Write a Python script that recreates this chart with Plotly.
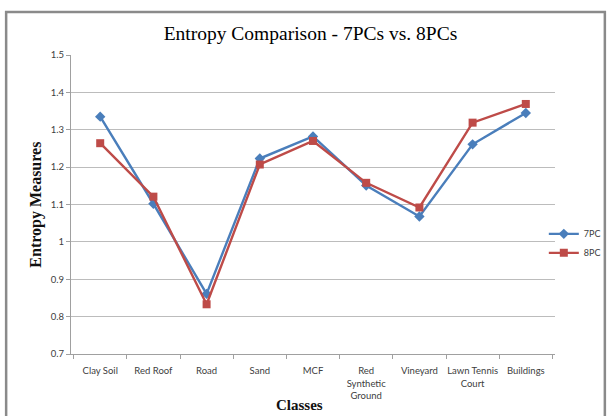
import plotly.graph_objects as go

categories = ["Clay Soil", "Red Roof", "Road", "Sand", "MCF",
              "Red<br>Synthetic<br>Ground", "Vineyard", "Lawn Tennis<br>Court", "Buildings"]
pc7 = [1.335, 1.102, 0.861, 1.223, 1.282, 1.151, 1.068, 1.261, 1.345]
pc8 = [1.264, 1.121, 0.833, 1.207, 1.270, 1.158, 1.092, 1.319, 1.369]
y_ticks = [0.7, 0.8, 0.9, 1.0, 1.1, 1.2, 1.3, 1.4, 1.5]
y_ticktext = ["0.7", "0.8", "0.9", "1", "1.1", "1.2", "1.3", "1.4", "1.5"]

tickfont = dict(family="Lato, Open Sans, sans-serif", size=9.5, color="#404040")
serif = "Liberation Serif, serif"

fig = go.Figure()
fig.add_trace(go.Scatter(x=categories, y=pc7, name="7PC", mode="lines+markers",
                         line=dict(color="#4a7ebb", width=2.4),
                         marker=dict(symbol="diamond", size=8, color="#4a7ebb")))
fig.add_trace(go.Scatter(x=categories, y=pc8, name="8PC", mode="lines+markers",
                         line=dict(color="#be4b48", width=2.4),
                         marker=dict(symbol="square", size=8, color="#be4b48")))

fig.update_layout(
    width=616, height=416,
    margin=dict(l=71, r=61, t=55, b=62, autoexpand=False),
    paper_bgcolor="white", plot_bgcolor="white",
    title=dict(text="Entropy Comparison - 7PCs vs. 8PCs", x=0.504, xanchor="center",
               y=0.921, yanchor="middle",
               font=dict(family=serif, size=19.5, color="#000000")),
    legend=dict(x=1.105, xanchor="right", y=0.37, yanchor="middle",
                font=dict(family="Lato, Open Sans, sans-serif", size=9, color="#404040"),
                bgcolor="rgba(0,0,0,0)", itemwidth=30, tracegroupgap=0),
    showlegend=True,
    annotations=[
        dict(text="<b>Classes</b>", xref="paper", yref="paper", x=0.473, y=-0.17,
             xanchor="center", yanchor="middle", showarrow=False,
             font=dict(family=serif, size=15, color="#111111")),
        dict(text="<b>Entropy Measures</b>", xref="paper", yref="paper", x=-0.074, y=0.5,
             xanchor="center", yanchor="middle", showarrow=False, textangle=-90,
             font=dict(family=serif, size=16, color="#111111")),
    ],
)
fig.update_xaxes(
    type="category", tickson="boundaries", ticks="outside", ticklen=4,
    tickcolor="#a0a0a0", showline=True, linecolor="#a0a0a0", linewidth=1,
    showgrid=False, tickfont=tickfont, tickangle=0, ticklabelstandoff=8,
)
fig.update_yaxes(
    range=[0.7, 1.5], tickvals=y_ticks, ticktext=y_ticktext,
    ticks="outside", ticklen=4, tickcolor="#a0a0a0",
    showline=True, linecolor="#a0a0a0", linewidth=1,
    showgrid=True, gridcolor="#bcbcbc", gridwidth=1, zeroline=False,
    tickfont=tickfont,
)
fig.add_shape(type="rect", xref="paper", yref="paper",
              x0=-0.134, x1=1.103, y0=-0.25, y1=1.144,
              line=dict(color="#8a8a8a", width=2.5), fillcolor="rgba(0,0,0,0)", layer="below")

fig.write_html("out.html", config={"displayModeBar": False},
               post_script="document.body.style.margin='0';document.body.style.overflow='hidden';")
